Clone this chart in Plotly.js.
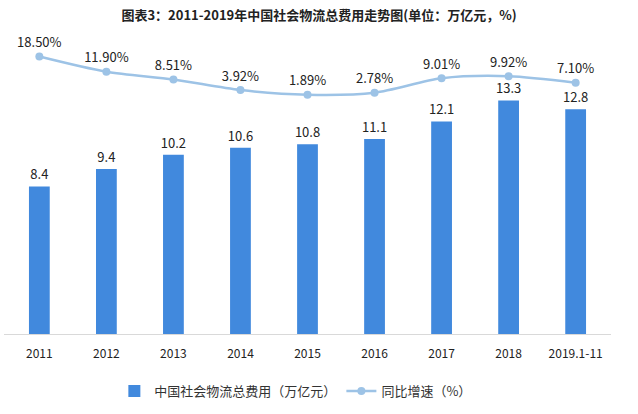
<!DOCTYPE html>
<html>
<head>
<meta charset="utf-8">
<script src="https://cdn.plot.ly/plotly-3.0.1.min.js"></script>
<style>html,body{margin:0;padding:0;background:#fff;}#chart{width:638px;height:414px;}</style>
</head>
<body>
<div id="chart"></div>
<script>
const categories = ["2011","2012","2013","2014","2015","2016","2017","2018","2019.1-11"];
const costValues = [8.4, 9.4, 10.2, 10.6, 10.8, 11.1, 12.1, 13.3, 12.8];
const growthValues = [18.50, 11.90, 8.51, 3.92, 1.89, 2.78, 9.01, 9.92, 7.10];
const costName = "中国社会物流总费用（万亿元）";
const growthName = "同比增速（%）";

const font = "'Noto Sans CJK SC', 'Noto Sans', sans-serif";

const bars = {
  type: "bar",
  x: categories,
  y: costValues,
  name: costName,
  marker: {color: "#4189DD"},
  width: 0.31,
  text: costValues.map(v => v.toFixed(1)),
  textposition: "outside",
  constraintext: "none",
  textfont: {size: 13, color: "#222", family: font},
  cliponaxis: false,
  hoverinfo: "skip"
};
const line = {
  type: "scatter",
  mode: "lines+markers+text",
  x: categories,
  y: growthValues,
  yaxis: "y2",
  name: growthName,
  line: {color: "#9DC3E6", width: 2.5, shape: "spline", smoothing: 0.8},
  marker: {color: "#9DC3E6", size: 8},
  text: growthValues.map(v => v.toFixed(2) + "%"),
  textposition: "top center",
  textfont: {size: 13, color: "#222", family: font},
  cliponaxis: false,
  hoverinfo: "skip"
};

const layout = {
  width: 638, height: 414,
  margin: {l: 4, r: 27, t: 53, b: 80},
  paper_bgcolor: "#fff", plot_bgcolor: "#fff",
  showlegend: true,
  title: {text: "<b>图表3：2011-2019年中国社会物流总费用走势图(单位：万亿元，%)</b>", x: 0.5, xanchor: "center", y: 0.963, yanchor: "middle", font: {size: 13, color: "#222", family: font}},
  xaxis: {
    type: "category",
    showgrid: false, zeroline: false,
    showline: true, linecolor: "#D9D9D9", linewidth: 1,
    ticks: "", tickfont: {size: 12, color: "#222", family: font},
    ticklabelstandoff: 9
  },
  yaxis: {range: [0, 16], visible: false, showgrid: false, zeroline: false},
  yaxis2: {range: [-102, 20], overlaying: "y", side: "right", visible: false, showgrid: false, zeroline: false},
  legend: {orientation: "h", x: 0.48, xanchor: "center", y: -0.15, yanchor: "top", font: {size: 13, color: "#333", family: font}, itemwidth: 30, traceorder: "normal"},
  bargap: 0.69
};

Plotly.newPlot("chart", [bars, line], layout, {displayModeBar: false, staticPlot: true});
</script>
</body>
</html>
